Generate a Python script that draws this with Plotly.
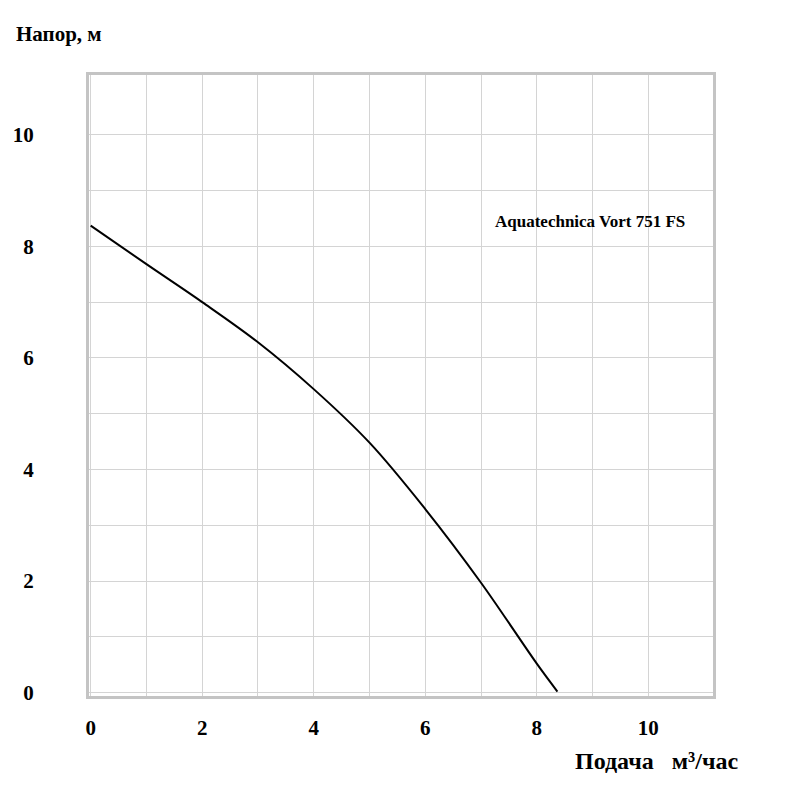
import plotly.graph_objects as go

# расход (м3/час) и напор (м)
flow = [0.0, 1.0, 2.0, 3.0, 4.0, 5.0, 6.0, 7.0, 8.0, 8.37]
head = [8.37, 7.68, 7.0, 6.28, 5.44, 4.48, 3.29, 1.97, 0.52, 0.02]

model = "Aquatechnica Vort 751 FS"
x_title = "Подача\u00a0\u00a0\u00a0м³/час"
y_title = "Напор, м"

serif = "Liberation Serif"
grid = "#d4d4d4"
border = "#c4c4c4"

fig = go.Figure()
fig.add_trace(go.Scatter(x=flow, y=head, mode="lines",
                         line=dict(color="black", width=2, shape="spline", smoothing=1),
                         showlegend=False, hoverinfo="skip"))

axis_common = dict(
    showgrid=True, gridcolor=grid, gridwidth=1,
    minor=dict(tickvals=[1, 3, 5, 7, 9], showgrid=True, gridcolor=grid, gridwidth=1),
    dtick=2, tick0=0,
    showline=True, mirror=True, linecolor=border, linewidth=3,
    zeroline=False, ticks="", automargin=False,
    tickfont=dict(family=serif, size=21, color="black", weight="bold"),
)

fig.update_xaxes(range=[-0.03, 11.16], ticklabelstandoff=11, **axis_common)
fig.update_yaxes(range=[-0.06, 11.07], ticklabelstandoff=48, **axis_common)

fig.add_annotation(text=y_title, xref="paper", yref="paper", x=-0.12, y=1.066,
                   xanchor="left", yanchor="middle", showarrow=False,
                   font=dict(family=serif, size=21, color="black", weight="bold"))
fig.add_annotation(text=x_title, xref="paper", yref="paper", x=0.775, y=-0.105,
                   xanchor="left", yanchor="middle", showarrow=False,
                   font=dict(family=serif, size=24, color="black", weight="bold"))
fig.add_annotation(text=model, xref="x", yref="y", x=7.22, y=8.45,
                   xanchor="left", yanchor="middle", showarrow=False,
                   font=dict(family=serif, size=17, color="black", weight="bold"))

# страница имеет отступ 8px, поэтому поля сдвинуты
fig.update_layout(
    width=800, height=795,
    margin=dict(l=81, r=95, t=67, b=107),
    plot_bgcolor="white", paper_bgcolor="white",
)

fig.write_html("out.html")
